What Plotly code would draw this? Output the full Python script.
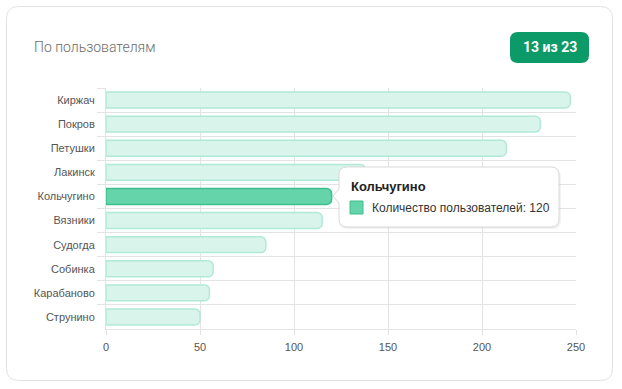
import plotly.graph_objects as go

# ---- data ----
towns = ["Киржач", "Покров", "Петушки", "Лакинск", "Кольчугино",
         "Вязники", "Судогда", "Собинка", "Карабаново", "Струнино"]
users = [247, 231, 213, 138, 120, 115, 85, 57, 55, 50]
x_ticks = [0, 50, 100, 150, 200, 250]
highlight = "Кольчугино"
title_text = "По пользователям"
badge_text = "13 из 23"
series_name = "Количество пользователей"

W, H = 622, 389
L, R, T, B = 106, 576, 88, 329  # plot area in pixels

def px(x):
    return (x - L) / (R - L)

def py(y):
    return (B - y) / (B - T)

def rrect(x0, y0, x1, y1, r):
    p = lambda x, y: f"{px(x):.5f},{py(y):.5f}"
    return (f"M {p(x0 + r, y0)} L {p(x1 - r, y0)} Q {p(x1, y0)} {p(x1, y0 + r)} "
            f"L {p(x1, y1 - r)} Q {p(x1, y1)} {p(x1 - r, y1)} "
            f"L {p(x0 + r, y1)} Q {p(x0, y1)} {p(x0, y1 - r)} "
            f"L {p(x0, y0 + r)} Q {p(x0, y0)} {p(x0 + r, y0)} Z")

def tip_path(x0, y0, x1, y1, r, ax, ay, ah):
    p = lambda x, y: f"{px(x):.5f},{py(y):.5f}"
    return (f"M {p(x0 + r, y0)} L {p(x1 - r, y0)} Q {p(x1, y0)} {p(x1, y0 + r)} "
            f"L {p(x1, y1 - r)} Q {p(x1, y1)} {p(x1 - r, y1)} "
            f"L {p(x0 + r, y1)} Q {p(x0, y1)} {p(x0, y1 - r)} "
            f"L {p(x0, ay + ah)} L {p(ax, ay)} L {p(x0, ay - ah)} "
            f"L {p(x0, y0 + r)} Q {p(x0, y0)} {p(x0 + r, y0)} Z")

fill = ["#66d4ab" if t == highlight else "#d9f5eb" for t in towns]
line = ["#3cbf8a" if t == highlight else "#b0ead4" for t in towns]

fig = go.Figure(go.Bar(
    y=towns, x=users, orientation="h", width=0.66,
    marker=dict(color=fill, line=dict(color=line, width=1.5)),
    hoverinfo="skip", name=series_name,
))

grid = "#e3e3e3"
fig.update_layout(
    width=W, height=H,
    margin=dict(l=L, r=W - R, t=T, b=H - B),
    paper_bgcolor="white", plot_bgcolor="white",
    showlegend=False, barcornerradius=5,
    font=dict(family="Liberation Sans, Arial, sans-serif", size=11, color="#555"),
    xaxis=dict(range=[0, 250], tickvals=x_ticks, showgrid=True, gridcolor=grid,
               zeroline=False, showline=True, linecolor=grid, mirror=False,
               ticks="outside", ticklen=5, tickcolor=grid, fixedrange=True,
               ticklabelstandoff=3,
               tickfont=dict(size=11, color="#555555")),
    yaxis=dict(type="category", categoryorder="array", categoryarray=towns,
               autorange="reversed", tickson="boundaries", showgrid=True,
               gridcolor=grid, ticks="outside", ticklen=8, tickcolor=grid,
               showline=True, linecolor=grid, fixedrange=True,
               ticklabelstandoff=8,
               tickfont=dict(size=11, color="#555555")),
)

shapes = []
# card
shapes.append(dict(type="path", xref="paper", yref="paper", layer="below",
                   path=rrect(6.5, 6.5, 612.5, 380.5, 12),
                   line=dict(color="#e2e2e2", width=1), fillcolor="white"))
# badge
shapes.append(dict(type="path", xref="paper", yref="paper",
                   path=rrect(510, 32, 589, 63, 8),
                   line=dict(width=0), fillcolor="#0b9a68"))
# tooltip shadow + box
shapes.append(dict(type="path", xref="paper", yref="paper",
                   path=tip_path(339, 169, 561, 229, 8, 334, 198, 7),
                   line=dict(width=0), fillcolor="rgba(0,0,0,0.05)"))
shapes.append(dict(type="path", xref="paper", yref="paper",
                   path=tip_path(339, 167, 559, 227, 8, 333, 196, 7),
                   line=dict(color="#d8d8d8", width=1), fillcolor="white"))
# tooltip colour square
shapes.append(dict(type="rect", xref="paper", yref="paper",
                   x0=px(350), x1=px(363), y0=py(201), y1=py(214),
                   line=dict(color="#3cbf8a", width=1), fillcolor="#66d4ab"))
fig.update_layout(shapes=shapes)

hi_val = users[towns.index(highlight)]
ann = [
    dict(text=title_text, x=px(32), y=py(47), xref="paper", yref="paper",
         xanchor="left", yanchor="middle", showarrow=False,
         font=dict(family="Roboto", size=14, color="#6b6b6b", weight=300)),
    dict(text=f"<b>{badge_text}</b>", x=px(549.5), y=py(47.5), xref="paper", yref="paper",
         xanchor="center", yanchor="middle", showarrow=False,
         font=dict(family="Roboto", size=14, color="white")),
    dict(text=f"<b>{highlight}</b>", x=px(349), y=py(186), xref="paper", yref="paper",
         xanchor="left", yanchor="middle", showarrow=False,
         font=dict(family="Liberation Sans, Arial", size=13, color="#222")),
    dict(text=f"{series_name}: {hi_val}", x=px(370), y=py(208), xref="paper", yref="paper",
         xanchor="left", yanchor="middle", showarrow=False,
         font=dict(family="Liberation Sans, Arial", size=12, color="#333")),
]
fig.update_layout(annotations=ann)

fig.write_html("out.html",
               config={"displayModeBar": False},
               post_script="document.body.style.margin='0';"
                           "document.body.style.overflow='hidden';")
